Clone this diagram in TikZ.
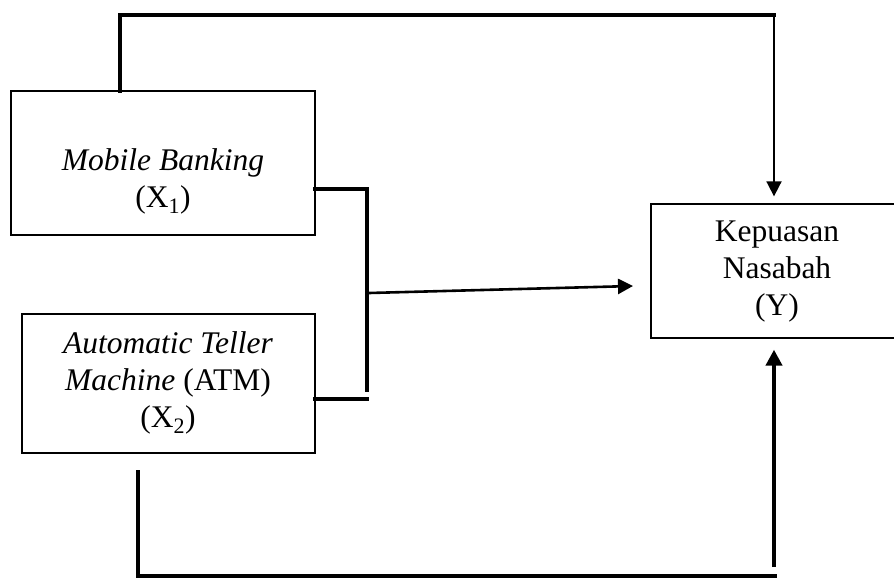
\documentclass[tikz,border=0pt]{standalone}
\usepackage{fontspec}
\setmainfont{Liberation Serif}
\usetikzlibrary{arrows.meta}
\begin{document}
\begin{tikzpicture}[x=1pt,y=-1pt,
  box/.style={draw, line width=1.3pt, inner sep=0pt},
  txt/.style={align=center, font=\fontsize{31.5}{37}\selectfont, inner sep=0pt},
  thickline/.style={line width=4.8pt, line cap=rect},
  thinarrow/.style={line width=1.8pt, -{Triangle[width=15pt,length=15pt]}},
  midarrow/.style={line width=2.6pt, -{Triangle[width=15pt,length=15pt]}},
  uparrow/.style={line width=4.4pt, -{Triangle[width=16pt,length=16pt]}}]
\clip (0,0) rectangle (894,578);
% boxes
\node[box, minimum width=304pt, minimum height=144pt] (mb) at (163,163) {};
\node[txt] (mbt) at (163,181) {\textit{Mobile Banking}\\(X\textsubscript{1})};
\node[box, minimum width=293pt, minimum height=139pt] (atm) at (168.5,383.5) {};
\node[txt] (atmt) at (168,383) {\textit{Automatic Teller}\\\textit{Machine} (ATM)\\(X\textsubscript{2})};
\node[box, minimum width=252pt, minimum height=134pt] (ky) at (777,271) {};
\node[txt] (kyt) at (777,272) {Kepuasan\\Nasabah\\(Y)};
% coordinates
\coordinate (tl) at (120,15);
\coordinate (tr) at (774,15);
\coordinate (bk) at (367,189);
\coordinate (bkend) at (367,390);
\coordinate (bkbot) at (367,399);
\coordinate (mid) at (369,293);
\coordinate (midend) at (633,286);
\coordinate (bl) at (138,472);
\coordinate (blc) at (138,576);
\coordinate (brc) at (775,576);
\coordinate (up) at (774,567);
% top connector
\draw[thickline] (tl |- mb.north) -- (tl) -- (tr);
\draw[thinarrow, shorten >=7pt] (tr) -- (tr |- ky.north);
% bracket
\draw[thickline] (mb.east |- bk) -- (bk) -- (bkend);
\draw[thickline] (atm.east |- bkbot) -- (bkbot);
\draw[midarrow] (mid) -- (midend);
% bottom connector
\draw[thickline] (bl) -- (blc) -- (brc);
\draw[uparrow, shorten >=11pt] (up) -- (up |- ky.south);
\end{tikzpicture}
\end{document}
